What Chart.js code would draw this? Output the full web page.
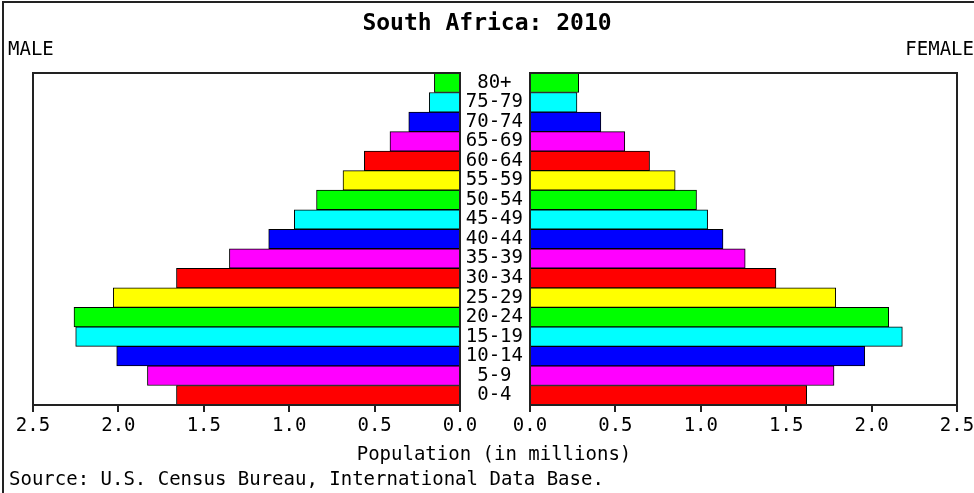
<!DOCTYPE html>
<html>
<head>
<meta charset="utf-8">
<script src="https://cdn.jsdelivr.net/npm/chart.js@4"></script>
<style>
  body { margin: 0; width: 974px; height: 493px; overflow: hidden; background: #fff; position: relative; font-family: "DejaVu Sans Mono", monospace; color: #000; }
  .frame { position: absolute; left: 2px; top: 1px; width: 980px; height: 500px; border-left: 2px solid #222; border-top: 2px solid #222; }
  .txt { position: absolute; white-space: nowrap; font-size: 19px; line-height: 20px; }
  #title { left: 0; width: 974px; top: 11px; text-align: center; font-weight: bold; font-size: 23px; line-height: 23px; }
  #male { left: 8px; top: 38px; }
  #female { right: 0; top: 38px; }
  #xtitle { left: 0; width: 988px; top: 443px; text-align: center; }
  #source { left: 9px; top: 468px; }
  #leftWrap { position: absolute; left: 0; top: 0; width: 480px; height: 493px; }
  #rightWrap { position: absolute; left: 460px; top: 0; width: 524px; height: 493px; }
</style>
</head>
<body>
<div class="frame"></div>
<div id="leftWrap"><canvas id="maleChart"></canvas></div>
<div id="rightWrap"><canvas id="femaleChart"></canvas></div>
<div class="txt" id="title">South Africa: 2010</div>
<div class="txt" id="male">MALE</div>
<div class="txt" id="female">FEMALE</div>
<div class="txt" id="xtitle">Population (in millions)</div>
<div class="txt" id="source">Source: U.S. Census Bureau, International Data Base.</div>
<script>
// age groups, bottom to top
const ageGroups = ["0-4", "5-9", "10-14", "15-19", "20-24", "25-29", "30-34", "35-39", "40-44",
  "45-49", "50-54", "55-59", "60-64", "65-69", "70-74", "75-79", "80+"];

// population in millions
const maleValues = [1.66, 1.83, 2.01, 2.25, 2.26, 2.03, 1.66, 1.35, 1.12,
  0.97, 0.84, 0.685, 0.56, 0.41, 0.30, 0.18, 0.15];
const femaleValues = [1.62, 1.78, 1.96, 2.18, 2.10, 1.79, 1.44, 1.26, 1.13,
  1.04, 0.975, 0.85, 0.70, 0.555, 0.415, 0.275, 0.285];

const xTicks = [0, 0.5, 1.0, 1.5, 2.0, 2.5];

const palette = ["#ff0000", "#ff00ff", "#0000ff", "#00ffff", "#00ff00", "#ffff00"];
const barColors = ageGroups.map((_, i) => palette[i % palette.length]);

const font = { family: "DejaVu Sans Mono", size: 19 };

// box around the plot area
const frameBox = {
  id: "frameBox",
  afterDraw(chart) {
    const { ctx, chartArea: a } = chart;
    ctx.save();
    ctx.strokeStyle = "#222";
    ctx.lineWidth = 2;
    ctx.strokeRect(a.left, a.top, a.right - a.left, a.bottom - a.top);
    ctx.restore();
  },
};

function xScale(reverse) {
  return {
    type: "linear",
    min: 0,
    max: 2.5,
    reverse: reverse,
    afterBuildTicks: (s) => { s.ticks = xTicks.map((v) => ({ value: v })); },
    afterFit: (s) => { s.height = 88; },
    grid: { drawOnChartArea: false, color: "#222", lineWidth: 2, tickLength: 7 },
    border: { display: true, color: "#222", width: 2 },
    ticks: { color: "#000", font: font, padding: 3, maxRotation: 0, autoSkip: false,
      callback: (v) => Number(v).toFixed(1) },
  };
}

function dataset(values) {
  return {
    data: values,
    backgroundColor: barColors,
    borderColor: "#000",
    borderWidth: 1,
    categoryPercentage: 1,
    barPercentage: 1,
  };
}

new Chart(document.getElementById("maleChart"), {
  type: "bar",
  data: { labels: ageGroups, datasets: [dataset(maleValues)] },
  options: {
    indexAxis: "y",
    responsive: true,
    maintainAspectRatio: false,
    animation: false,
    layout: { padding: { left: 33, right: 20, top: 73, bottom: 0 } },
    plugins: { legend: { display: false }, tooltip: { enabled: false } },
    scales: {
      x: xScale(true),
      y: { reverse: true, display: false },
    },
  },
  plugins: [frameBox],
});

new Chart(document.getElementById("femaleChart"), {
  type: "bar",
  data: { labels: ageGroups, datasets: [dataset(femaleValues)] },
  options: {
    indexAxis: "y",
    responsive: true,
    maintainAspectRatio: false,
    animation: false,
    layout: { padding: { left: 0, right: 27, top: 73, bottom: 0 } },
    plugins: { legend: { display: false }, tooltip: { enabled: false } },
    scales: {
      x: xScale(false),
      y: {
        reverse: true,
        afterFit: (s) => { s.width = 70; },
        grid: { display: false, drawTicks: false },
        border: { display: false },
        ticks: { color: "#000", font: font, padding: 7, crossAlign: "center", autoSkip: false },
      },
    },
  },
  plugins: [frameBox],
});
</script>
</body>
</html>
